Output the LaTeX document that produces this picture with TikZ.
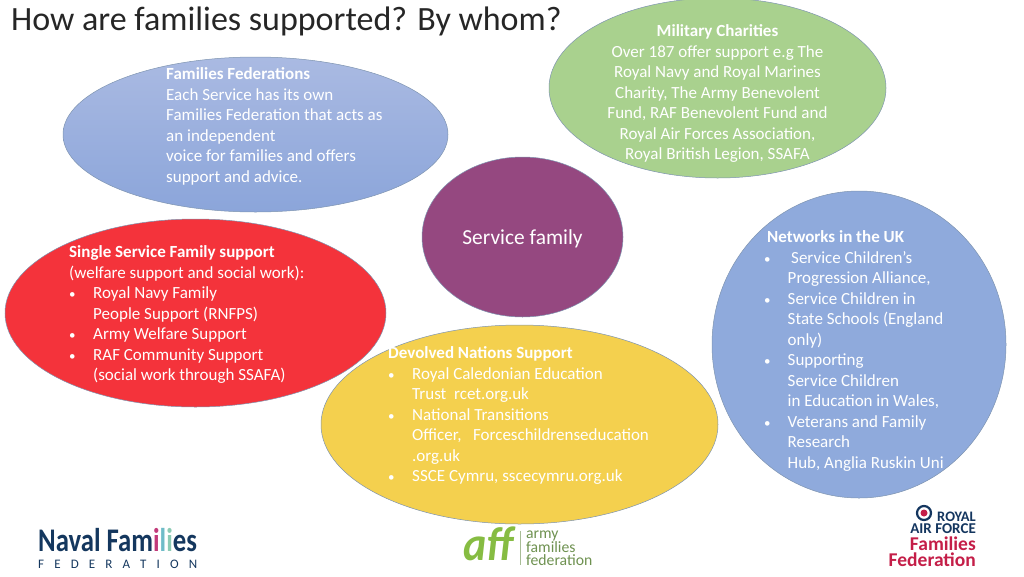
\documentclass[tikz,border=0pt]{standalone}
\usepackage{fontspec}
\setmainfont{Carlito}
\usetikzlibrary{shapes.geometric}
\definecolor{blobblue}{HTML}{8FAADC}
\definecolor{blobtop}{HTML}{AABAE2}
\definecolor{blobbot}{HTML}{8BA5DA}
\definecolor{blobgreen}{HTML}{A9D18E}
\definecolor{blobpurple}{HTML}{954880}
\definecolor{blobred}{HTML}{F4333B}
\definecolor{blobyellow}{HTML}{F4D04E}
\definecolor{edgeline}{HTML}{7E94B0}
\definecolor{navalnavy}{HTML}{14375E}
\definecolor{navalpink}{HTML}{C23B7A}
\definecolor{navalteal}{HTML}{6FBCC8}
\definecolor{navalmint}{HTML}{8CCBB4}
\definecolor{affgreen}{HTML}{86BC42}
\definecolor{affgrey}{HTML}{6E9150}
\definecolor{rafnavy}{HTML}{14365F}
\definecolor{rafred}{HTML}{C41E48}
\newcommand{\smallblt}{{\fontsize{13}{13}\selectfont •}}
\newcommand{\blt}{\makebox[24pt][l]{\smallblt}}
\newcommand{\ind}{\hspace*{24pt}}
\newcommand{\netblt}{\makebox[20.5pt][l]{\hspace*{-3pt}\smallblt}}
\newcommand{\netind}{\hspace*{20.5pt}}
\tikzset{
  blob/.style={ellipse,draw=edgeline,line width=0.5pt,inner sep=0pt},
  blobtext/.style={anchor=north west,inner sep=0pt,text=white,align=left,font=\fontsize{17}{20.5}\selectfont},
  logotext/.style={inner sep=0pt,font=\bfseries}
}
\begin{document}
\begin{tikzpicture}[x=1pt,y=-1pt]
  \useasboundingbox (0,0) rectangle (1024,576);
  \node[anchor=base west,inner sep=0pt,text=black!85,font=\fontsize{34}{38}\selectfont] (title) at (11,30) {How are families supported? By whom?};
  % the circles
  \node[blob,top color=blobtop,bottom color=blobbot,minimum width=385pt,minimum height=155pt] (federations) at (255.5,134.5) {};
  \node[blob,fill=blobgreen,minimum width=337pt,minimum height=180pt] (charities) at (717.5,88) {};
  \node[blob,fill=blobpurple,minimum width=201pt,minimum height=160pt,text=white,font=\fontsize{21.4}{24}\selectfont] (family) at (522.5,237) {\rule{0pt}{19pt}Service family};
  \node[blob,fill=blobred,minimum width=381pt,minimum height=188pt] (single) at (195.5,313) {};
  \node[blob,fill=blobyellow,minimum width=397pt,minimum height=199pt] (devolved) at (519.5,424.5) {};
  \node[blob,fill=blobblue,minimum width=294pt,minimum height=307pt] (networks) at (859,344.5) {};
  % the texts
  \node[blobtext] (federationstext) at (166,67.5) {\textbf{Families Federations}\\
    Each Service has its own\\
    Families Federation that acts as\\
    an independent\\
    voice for families and offers\\
    support and advice.};
  \node[blobtext,anchor=north,align=center] (charitiestext) at (717.5,24.5) {\textbf{Military Charities}\\
    Over 187 offer support e.g The\\
    Royal Navy and Royal Marines\\
    Charity, The Army Benevolent\\
    Fund, RAF Benevolent Fund and\\
    Royal Air Forces Association,\\
    Royal British Legion, SSAFA};
  \node[blobtext] (singletext) at (69,245.5) {\textbf{Single Service Family support}\\
    (welfare support and social work):\\
    \blt Royal Navy Family\\
    \ind People Support (RNFPS)\\
    \blt Army Welfare Support\\
    \blt RAF Community Support\\
    \ind (social work through SSAFA)};
  \node[blobtext] (devolvedtext) at (388,346.5) {\textbf{Devolved Nations Support}\\
    \blt Royal Caledonian Education\\
    \ind Trust\ \ rcet.org.uk\\
    \blt National Transitions\\
    \ind Officer,\ \ \ Forceschildrenseducation\\
    \ind .org.uk\\
    \blt SSCE Cymru, sscecymru.org.uk};
  \node[blobtext] (networkstext) at (767,230.5) {\textbf{Networks in the UK}\\
    \makebox[24pt][l]{\hspace*{-3pt}\smallblt}Service Children’s\\
    \netind Progression Alliance,\\
    \netblt Service Children in\\
    \netind State Schools (England\\
    \netind only)\\
    \netblt Supporting\\
    \netind Service Children\\
    \netind in Education in Wales,\\
    \netblt Veterans and Family\\
    \netind Research\\
    \netind Hub, Anglia Ruskin Uni};
  % naval logo
  \node[logotext,anchor=base west,text=navalnavy,font=\fontsize{33}{33}\bfseries\selectfont,transform shape,xscale=0.81] (navalname) at (38,551) {Naval Fam\textcolor{navalpink}{i}\textcolor{navalteal}{l}\textcolor{navalmint}{i}es};
  \node[anchor=base west,inner sep=0pt,text=navalnavy,font=\fontsize{13}{13}\selectfont] (navalfed) at (38,568) {\makebox[159pt][s]{F\hfill E\hfill D\hfill E\hfill R\hfill A\hfill T\hfill I\hfill O\hfill N}};
  % army logo
  \node[logotext,anchor=base west,text=affgreen,font=\fontsize{48}{48}\bfseries\itshape\selectfont,transform shape,xscale=0.92] (affmark) at (463,560) {aff};
  \coordinate (afftop) at (520,531);
  \coordinate (affbot) at (520,565);
  \draw[affgrey!60,line width=0.5pt] (afftop) -- (affbot);
  \node[anchor=north west,inner sep=0pt,text=affgrey,align=left,font=\fontsize{15.7}{13.5}\selectfont] (afftext) at (526,531) {army\\families\\federation};
  % raf logo
  \node[circle,draw=rafnavy,line width=2.2pt,fill=white,minimum size=14pt,inner sep=0pt] (roundel) at (924,513) {};
  \node[circle,fill=rafred,minimum size=7pt,inner sep=0pt] (roundelmid) at (924,513) {};
  \node[logotext,anchor=base east,text=rafnavy,font=\fontsize{14.5}{15}\bfseries\selectfont] (rafroyal) at (976,521) {ROYAL};
  \node[logotext,anchor=base east,text=rafnavy,font=\fontsize{15}{15}\bfseries\selectfont] (rafforce) at (976,533.5) {AIR FORCE};
  \node[logotext,anchor=base east,text=rafred,font=\fontsize{19.5}{20}\bfseries\selectfont] (raffamilies) at (976,550) {Families};
  \node[logotext,anchor=base east,text=rafred,font=\fontsize{19.5}{20}\bfseries\selectfont] (raffed) at (976,566) {Federation};
\end{tikzpicture}
\end{document}
